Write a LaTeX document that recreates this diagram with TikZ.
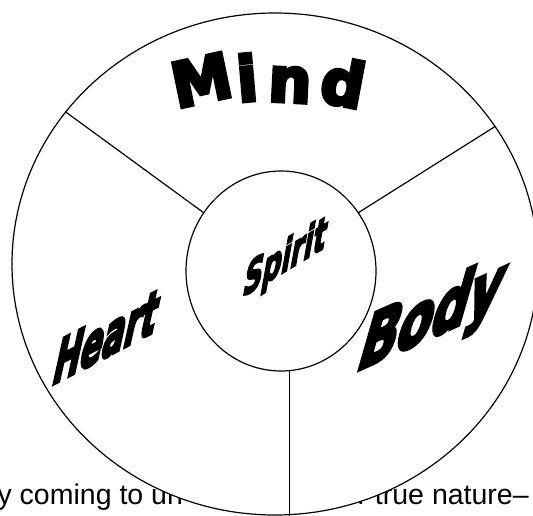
\documentclass[tikz,border=0pt]{standalone}
\usepackage{fontspec}
\setmainfont{Liberation Sans}
\newfontfamily\wordart{DejaVu Sans}[BoldFeatures={FakeBold=6}]
\newfontfamily\wordartlight{DejaVu Sans}[BoldFeatures={FakeBold=4.5}]
\usetikzlibrary{shapes.geometric}
\begin{document}
\begin{tikzpicture}[x=1pt,y=-1pt,line width=1.2pt,
  ring/.style={ellipse,draw,fill=white,inner sep=0pt},
  bodytext/.style={font=\fontsize{28.5}{30}\selectfont,inner sep=0pt,anchor=base west},
  word/.style={inner sep=0pt,font=\wordart\bfseries},
  mindletter/.style={word,anchor=base,font=\wordart\bfseries\fontsize{62}{62}\selectfont,xscale=0.97}]
\useasboundingbox (0,0) rectangle (533,515);
\clip (0,0) rectangle (533,515);
% text behind the wheel
\node[bodytext] (t1) at (-3,504) {y coming to un};
\node[bodytext] (t2) at (357,504) {r true nature–};
% wheel
\node[ring,minimum width=526pt,minimum height=502pt] (outer) at (275,264) {};
\node[ring,minimum width=190pt,minimum height=200pt] (inner) at (281,271) {};
\draw (outer.144) -- (inner.143);
\draw (outer.32) -- (inner.37);
\draw (inner.-85) -- (inner.-85 |- outer.south);
% Mind
\node[mindletter,rotate=12] (m1) at (206,102) {M};
\node[mindletter,rotate=5] (m2) at (249,101) {i};
\node[mindletter,rotate=-3] (m3) at (289,102) {n};
\node[mindletter,rotate=-11] (m4) at (339,105) {d};
% slanted words
\node[word,anchor=base west,yslant=0.52,xslant=0.25,xscale=0.58,font=\wordart\bfseries\fontsize{56}{56}\selectfont] (heart) at (50,386) {Heart};
\node[word,anchor=base west,yslant=0.6,xslant=0.2,xscale=0.62,font=\wordartlight\bfseries\fontsize{43}{43}\selectfont] (spirit) at (241,298) {Spirit};
\node[word,anchor=base west,yslant=0.45,xslant=0.33,xscale=0.74,font=\wordart\bfseries\fontsize{68}{68}\selectfont] (body) at (354,372) {Body};
\end{tikzpicture}
\end{document}
